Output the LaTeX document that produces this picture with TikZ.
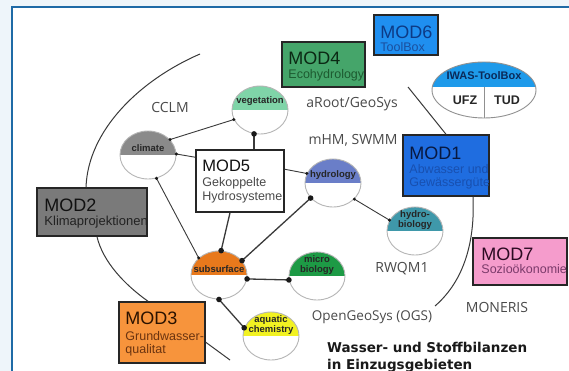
\documentclass[tikz,border=0pt]{standalone}
\usepackage{fontspec}
\setmainfont{Liberation Sans}
\newfontfamily\labfont{Open Sans}
\newfontfamily\dvfont{DejaVu Sans}
\usetikzlibrary{shapes.geometric,calc}
\definecolor{bgblue}{HTML}{EEF5FA}
\definecolor{frameblue}{HTML}{1E6AA6}
\definecolor{mSix}{HTML}{1F8FF0}\definecolor{mSixT}{HTML}{0D3A85}\definecolor{mSixS}{HTML}{1B4F9E}
\definecolor{mFour}{HTML}{45A56A}\definecolor{mFourT}{HTML}{0B2914}\definecolor{mFourS}{HTML}{1D5A30}
\definecolor{mOne}{HTML}{1F6DE0}\definecolor{mOneT}{HTML}{08183F}\definecolor{mOneS}{HTML}{1850B0}
\definecolor{mTwo}{HTML}{7A7A7A}\definecolor{mTwoT}{HTML}{111111}\definecolor{mTwoS}{HTML}{222222}
\definecolor{mThree}{HTML}{F7943C}\definecolor{mThreeT}{HTML}{2A1200}\definecolor{mThreeS}{HTML}{6B3410}
\definecolor{mFiveT}{HTML}{111111}\definecolor{mFiveS}{HTML}{4A4A4A}
\definecolor{mSeven}{HTML}{F59CCC}\definecolor{mSevenT}{HTML}{2B0A22}\definecolor{mSevenS}{HTML}{7A3A6A}
\definecolor{circgray}{HTML}{B5B5B5}
\definecolor{ellgray}{HTML}{909090}
\definecolor{iwasc}{HTML}{1E9AEA}
\definecolor{iwasT}{HTML}{0A2A5A}
\definecolor{vegc}{HTML}{7FD4A8}
\definecolor{climc}{HTML}{8A8A8A}
\definecolor{hydc}{HTML}{6A7EC8}
\definecolor{hbioc}{HTML}{3F98AA}
\definecolor{micc}{HTML}{1D9A45}
\definecolor{subc}{HTML}{E8791C}
\definecolor{aquc}{HTML}{F2F222}
\definecolor{linec}{HTML}{3A3A3A}
\definecolor{labc}{HTML}{4A4A4A}
\begin{document}
\begin{tikzpicture}[x=1pt,y=-1pt,
  modbox/.style={draw=black!85, line width=1.5pt, rectangle, inner sep=0pt},
  ttl/.style={anchor=base west, inner sep=0pt, font=\fontsize{18}{18}\selectfont},
  sb/.style={anchor=base west, inner sep=0pt, font=\fontsize{12.5}{13}\selectfont},
  halfc/.style={ellipse, draw=circgray, line width=0.9pt, minimum width=56pt, minimum height=48pt, inner sep=0pt,
     path picture={\fill[#1, draw=none] (path picture bounding box.north west) rectangle (path picture bounding box.east);}},
  clab/.style={anchor=south, inner sep=0pt, align=center, text=black!85, font=\bfseries\fontsize{9.5}{10}\selectfont},
  conn/.style={draw=linec, line width=0.9pt},
  connB/.style={draw=linec, line width=1.3pt},
  plain/.style={draw=linec, line width=1pt},
  lab/.style={inner sep=0pt, text=labc, font=\labfont\fontsize{14}{16}\selectfont},
  ]
\useasboundingbox (0,0) rectangle (569,371);
\fill[bgblue] (0,0) rectangle (569,371);
\fill[white] (12,7) rectangle (569,371);
\draw[frameblue, line width=2pt] (12,371) -- (12,7) -- (569,7);

% ---------- MOD boxes ----------
\node[modbox, fill=mSix, minimum width=64pt, minimum height=40pt] (mod6) at (406,35) {};
\begin{scope}
\clip ([shift={(0.8pt,-0.8pt)}]mod6.north west) rectangle ([shift={(-0.8pt,0.8pt)}]mod6.south east);
\node[ttl, text=mSixT] (mod6t) at ([shift={(7pt,-24pt)}]mod6.north west) {MOD6};
\node[sb, text=mSixS] (mod6s) at ([shift={(7pt,-37pt)}]mod6.north west) {ToolBox};
\end{scope}

\node[modbox, fill=mFour, minimum width=83pt, minimum height=45pt] (mod4) at (323.5,64.5) {};
\begin{scope}
\clip ([shift={(0.8pt,-0.8pt)}]mod4.north west) rectangle ([shift={(-0.8pt,0.8pt)}]mod4.south east);
\node[ttl, text=mFourT] (mod4t) at ([shift={(7pt,-23pt)}]mod4.north west) {MOD4};
\node[sb, text=mFourS] (mod4s) at ([shift={(7pt,-37pt)}]mod4.north west) {Ecohydrology};
\end{scope}

\node[modbox, fill=mOne, minimum width=86pt, minimum height=61pt] (mod1) at (446,165.5) {};
\begin{scope}
\clip ([shift={(0.8pt,-0.8pt)}]mod1.north west) rectangle ([shift={(-0.8pt,0.8pt)}]mod1.south east);
\node[ttl, text=mOneT] (mod1t) at ([shift={(7pt,-25pt)}]mod1.north west) {MOD1};
\node[sb, text=mOneS] (mod1s) at ([shift={(7pt,-39pt)}]mod1.north west) {Abwasser und};
\node[sb, text=mOneS] (mod1u) at ([shift={(7pt,-52pt)}]mod1.north west) {Gewässergüte};
\end{scope}

\node[modbox, fill=mTwo, minimum width=110pt, minimum height=48pt] (mod2) at (92,212) {};
\begin{scope}
\clip ([shift={(0.8pt,-0.8pt)}]mod2.north west) rectangle ([shift={(-0.8pt,0.8pt)}]mod2.south east);
\node[ttl, text=mTwoT] (mod2t) at ([shift={(8pt,-24pt)}]mod2.north west) {MOD2};
\node[sb, text=mTwoS, font=\fontsize{13}{13}\selectfont] (mod2s) at ([shift={(8pt,-38pt)}]mod2.north west) {Klimaprojektionen};
\end{scope}

\node[modbox, fill=mThree, minimum width=86pt, minimum height=61pt] (mod3) at (162,332.5) {};
\begin{scope}
\clip ([shift={(0.8pt,-0.8pt)}]mod3.north west) rectangle ([shift={(-0.8pt,0.8pt)}]mod3.south east);
\node[ttl, text=mThreeT] (mod3t) at ([shift={(7pt,-23pt)}]mod3.north west) {MOD3};
\node[sb, text=mThreeS] (mod3s) at ([shift={(7pt,-39pt)}]mod3.north west) {Grundwasser-};
\node[sb, text=mThreeS] (mod3u) at ([shift={(7pt,-52pt)}]mod3.north west) {qualitat};
\end{scope}

\node[modbox, fill=white, minimum width=88pt, minimum height=62pt] (mod5) at (240,181) {};
\begin{scope}
\clip ([shift={(0.8pt,-0.8pt)}]mod5.north west) rectangle ([shift={(-0.8pt,0.8pt)}]mod5.south east);
\node[ttl, text=mFiveT, font=\fontsize{16.5}{17}\selectfont] (mod5t) at ([shift={(7pt,-22pt)}]mod5.north west) {MOD5};
\node[sb, text=mFiveS] (mod5s) at ([shift={(7pt,-37pt)}]mod5.north west) {Gekoppelte};
\node[sb, text=mFiveS] (mod5u) at ([shift={(7pt,-51pt)}]mod5.north west) {Hydrosysteme};
\end{scope}

\node[modbox, fill=mSeven, minimum width=94pt, minimum height=47pt] (mod7) at (520,261.5) {};
\begin{scope}
\clip ([shift={(0.8pt,-0.8pt)}]mod7.north west) rectangle ([shift={(-0.8pt,0.8pt)}]mod7.south east);
\node[ttl, text=mSevenT] (mod7t) at ([shift={(9pt,-23pt)}]mod7.north west) {MOD7};
\node[sb, text=mSevenS, font=\fontsize{12.5}{13}\selectfont] (mod7s) at ([shift={(9pt,-36pt)}]mod7.north west) {Sozioökonomie};
\end{scope}

% ---------- IWAS ellipse ----------
\node[ellipse, draw=ellgray, line width=0.9pt, minimum width=104pt, minimum height=56pt, inner sep=0pt,
  path picture={\fill[iwasc, draw=none] (path picture bounding box.north west) rectangle ([yshift=3pt]path picture bounding box.east);}] (iwas) at (484,90) {};
\draw[ellgray, line width=0.9pt] ([yshift=3pt]iwas.center) -- (iwas.south);
\node[inner sep=0pt, text=iwasT, font=\bfseries\fontsize{11}{12}\selectfont] (iwast) at (484,76) {IWAS-ToolBox};
\node[inner sep=0pt, text=black!85, font=\bfseries\fontsize{12.5}{13}\selectfont] (ufz) at (465,100) {UFZ};
\node[inner sep=0pt, text=black!85, font=\bfseries\fontsize{12.5}{13}\selectfont] (tud) at (507,100) {TUD};

% ---------- half-filled circles ----------
\node[halfc=vegc] (veg) at (260,110) {};
\node[halfc=climc] (clim) at (148,155) {};
\node[halfc=hydc] (hydro) at (333,183) {};
\node[halfc=hbioc] (hbio) at (415,231) {};
\node[halfc=micc] (micro) at (317,276) {};
\node[halfc=subc] (subs) at (219,275) {};
\node[halfc=aquc] (aqua) at (271,336) {};
\node[clab] (vegl) at ([yshift=4pt]veg.center) {vegetation};
\node[clab] (climl) at ([yshift=3pt]clim.center) {climate};
\node[clab] (hydl) at ([yshift=3pt]hydro.center) {hydrology};
\node[clab] (hbiol) at ([yshift=1pt]hbio.center) {hydro-\\biology};
\node[clab] (micl) at ([yshift=1pt]micro.center) {micro\\biology};
\node[clab] (subl) at ([yshift=2pt]subs.center) {subsurface};
\node[clab] (aqul) at ([yshift=1pt]aqua.center) {aquatic\\chemistry};

% ---------- connectors ----------
\draw[conn] (clim.35) -- (veg.200);
\draw[connB] (veg.256) -- (veg.256 |- mod5.north);
\draw[conn] (clim.2) -- ([yshift=-8pt]mod5.north west);
\draw[conn] (clim.290) -- (subs.140);
\draw[conn] ([yshift=-20pt]mod5.north east) -- (hydro.160);
\draw[connB] ([xshift=-10pt]mod5.south) -- (subs.85);
\draw[connB] (hydro.214) -- (subs.32);
\draw[conn] (hydro.323) -- (hbio.157);
\draw[connB] (subs.352) -- (micro.188);
\draw[connB] (subs.270) -- (aqua.163);
\foreach \p in {clim.35, veg.200, clim.2, clim.290, subs.140, hydro.160, hydro.323, hbio.157}
  \fill[black!90] (\p) circle[radius=1.7pt];
\foreach \p in {veg.256, subs.85, hydro.214, subs.32, subs.352, micro.188, subs.270, aqua.163}
  \fill[black!90] (\p) circle[radius=2.8pt];

\coordinate (arcA) at (200,54);
\draw[plain] (arcA) .. controls (140,80) and (88,130) .. ([xshift=-6pt]mod2.north);
\draw[plain] ([xshift=5pt]mod2.south) .. controls (103,262) and (125,285) .. ([xshift=-14pt]mod3.north);
\coordinate (arcB) at (435,306);
\draw[plain] ([xshift=27pt]mod1.south) .. controls (475,240) and (465,280) .. (arcB);
\coordinate (tsix) at (408,87);
\draw[plain] (tsix) -- (mod1.north);
\coordinate (tthree) at (230,360);
\draw[plain] ([yshift=-41pt]mod3.north east) -- (tthree);

% ---------- labels ----------
\node[lab] (cclm) at (170,108) {CCLM};
\node[lab] (aroot) at (352,104) {aRoot/GeoSys};
\node[lab] (mhm) at (353,140) {mHM, SWMM};
\node[lab] (rwqm) at (402,269) {RWQM1};
\node[lab] (moneris) at (497,307) {MONERIS};
\node[lab, font=\labfont\fontsize{13.5}{16}\selectfont] (ogs) at (372,317) {OpenGeoSys (OGS)};
\node[anchor=base west, inner sep=0pt, text=black!90, font=\dvfont\bfseries\fontsize{13.5}{17}\selectfont] (wasser) at (327,352) {Wasser- und Stoffbilanzen};
\node[anchor=base west, inner sep=0pt, text=black!90, font=\dvfont\bfseries\fontsize{13.5}{17}\selectfont] (einzug) at (327,369) {in Einzugsgebieten};
\end{tikzpicture}
\end{document}
